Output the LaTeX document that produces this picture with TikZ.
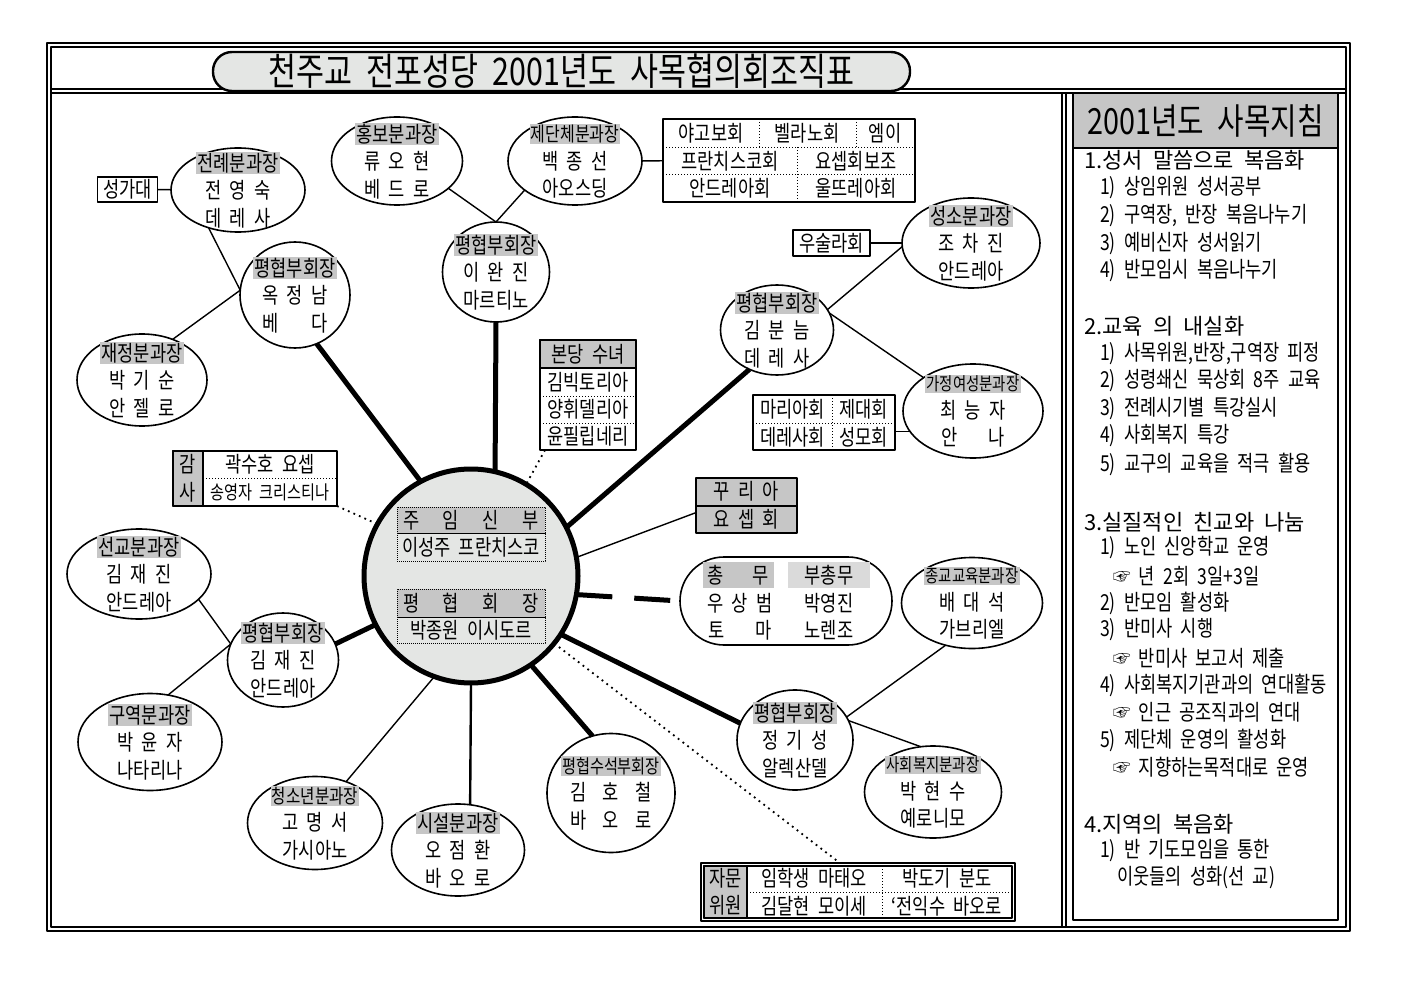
\documentclass[tikz,border=0pt]{standalone}
\usepackage{fontspec}
\setmainfont[FakeStretch=0.8,WordSpace=2.1]{Noto Sans CJK KR}
\newfontfamily\headfont[WordSpace=2.1]{Noto Sans CJK KR}
\usetikzlibrary{shapes.geometric}
\definecolor{orgGray}{HTML}{C6C6C6}
\definecolor{orgPale}{HTML}{DADADA}
\definecolor{orgLight}{HTML}{E4E6E4}
\setlength{\fboxsep}{1.2pt}
\newcommand{\orgfont}{\fontsize{22}{27.5}\selectfont}
\newcommand{\orgrole}[2][22]{{\fontsize{#1}{27.5}\selectfont\colorbox{orgGray}{#2}}}
\newcommand{\orgspread}[2]{\makebox[#1][s]{#2}}
\tikzset{
  org chart/.style={
    x=1pt, y=-1pt, line join=round,
    every node/.style={font=\orgfont, inner sep=0pt, outer sep=0pt}
  },
  org size/.style 2 args={minimum width=#1pt, minimum height=#2pt},
  org unit/.style={ellipse, draw, line width=1.6pt, fill=white},
  org main/.style={circle, draw, line width=5pt, fill=orgLight, minimum size=214pt},
  org text/.style={align=center},
  org box/.style={rectangle, draw, line width=1.6pt, fill=white},
  org cell/.style={rectangle, draw, line width=0.8pt, dash pattern=on 0.8pt off 1.2pt},
  org link/.style={line width=1.4pt},
  org trunk/.style={line width=5pt},
  org dots/.style={line width=1.8pt, dash pattern=on 1.8pt off 4.2pt},
  cell rule/.style={line width=0.8pt, dash pattern=on 1pt off 2pt},
  frame line/.style={line width=1.2pt},
  guide head/.style={font=\headfont\fontsize{22}{27}\selectfont, anchor=west},
  guide item/.style={anchor=west}
}
\newcommand{\OrgUnit}[5][]{%
  \node[org unit,#1] (#2) at (#3) {};
  \node[org text] (#2-txt) at (#2) {#4\\#5};
}

\begin{document}
\begin{tikzpicture}[org chart]
  \path[use as bounding box, fill=white] (0,0) rectangle (1403,992);
  \draw[frame line] (47,43) rectangle (1350,931);
  \draw[frame line] (51,47) rectangle (1346,927);
  \draw[frame line] (51,89) -- (1346,89);
  \draw[frame line] (51,93) -- (1346,93);
  \draw[frame line] (1062,93) -- (1062,927);
  \draw[frame line] (1066,93) -- (1066,927);
  \node[draw, line width=2.4pt, fill=orgLight, rounded corners=19pt, org size={697}{39}] (title) at (561.5,71.5)
    {\fontsize{38}{40}\selectfont 천주교 전포성당 2001년도 사목협의회조직표};

  % guide panel
  \node[org box, line width=1.4pt, org size={265}{827}] (guide) at (1205.5,506.5) {};
  \node[org box, line width=1.4pt, fill=orgGray, org size={265}{55}] (guide-title) at (1205.5,120.5)
    {\fontsize{36}{40}\selectfont 2001년도 사목지침};
  \node[guide head] (g1) at (1084,160) {1.성서 말씀으로 복음화};
  \node[guide item] (g1a) at (1100,188) {1) 상임위원 성서공부};
  \node[guide item] (g1b) at (1100,216) {2) 구역장, 반장 복음나누기};
  \node[guide item] (g1c) at (1100,244) {3) 예비신자 성서읽기};
  \node[guide item] (g1d) at (1100,271) {4) 반모임시 복음나누기};
  \node[guide head] (g2) at (1084,326) {2.교육 의 내실화};
  \node[guide item] (g2a) at (1100,354) {1) 사목위원,반장,구역장 피정};
  \node[guide item] (g2b) at (1100,381) {2) 성령쇄신 묵상회 8주 교육};
  \node[guide item] (g2c) at (1100,409) {3) 전례시기별 특강실시};
  \node[guide item] (g2d) at (1100,436) {4) 사회복지 특강};
  \node[guide item] (g2e) at (1100,464) {5) 교구의 교육을 적극 활용};
  \node[guide head] (g3) at (1084,522) {3.실질적인 친교와 나눔};
  \node[guide item] (g3a) at (1100,548) {1) 노인 신앙학교 운영};
  \node[guide item] (g3b) at (1113,576) {☞ 년 2회 3일+3일};
  \node[guide item] (g3c) at (1100,603) {2) 반모임 활성화};
  \node[guide item] (g3d) at (1100,630) {3) 반미사 시행};
  \node[guide item] (g3e) at (1113,658) {☞ 반미사 보고서 제출};
  \node[guide item] (g3f) at (1100,685) {4) 사회복지기관과의 연대활동};
  \node[guide item] (g3g) at (1113,712) {☞ 인근 공조직과의 연대};
  \node[guide item] (g3h) at (1100,740) {5) 제단체 운영의 활성화};
  \node[guide item] (g3i) at (1113,767) {☞ 지향하는목적대로 운영};
  \node[guide head] (g4) at (1084,824) {4.지역의 복음화};
  \node[guide item] (g4a) at (1100,851) {1) 반 기도모임을 통한};
  \node[guide item] (g4b) at (1117,878) {이웃들의 성화(선 교)};

  % centre
  \node[org main] (main) at (471,576) {};
  \node[org cell, fill=orgGray, org size={148}{26}] (pastor-role) at (471,520) {\orgspread{136pt}{주 임 신 부}};
  \node[org cell, org size={148}{28}] (pastor-name) at (471,547) {이성주 프란치스코};
  \node[org cell, fill=orgGray, org size={148}{28}] (president-role) at (471,603) {\orgspread{136pt}{평 협 회 장}};
  \node[org cell, org size={148}{26}] (president-name) at (471,630) {박종원 이시도르};

  % units
  \OrgUnit[org size={134}{84}]{jeonrye}{238,190}{\orgrole{전례분과장}}{전 영 숙\\데 레 사}
  \OrgUnit[org size={131}{88}]{hongbo}{397,161}{\orgrole{홍보분과장}}{류 오 현\\베 드 로}
  \OrgUnit[org size={134}{88}]{jedan}{575,161}{\orgrole[20]{제단체분과장}}{백 종 선\\아오스딩}
  \OrgUnit[org size={107}{100}]{pyeongT}{496,272}{\orgrole{평협부회장}}{이 완 진\\마르티노}
  \OrgUnit[org size={110}{106}]{pyeongL}{295,295}{\orgrole{평협부회장}}{옥 정 남\\\orgspread{66pt}{베 다}}
  \OrgUnit[org size={130}{92}]{jaejeong}{142,380}{\orgrole{재정분과장}}{박 기 순\\안 젤 로}
  \OrgUnit[org size={113}{90}]{pyeongR}{777,330}{\orgrole{평협부회장}}{김 분 늠\\데 레 사}
  \OrgUnit[org size={138}{90}]{seongso}{971,243}{\orgrole{성소분과장}}{조 차 진\\안드레아}
  \OrgUnit[org size={140}{94}]{gajeong}{973,411}{\orgrole[18]{가정여성분과장}}{최 능 자\\\orgspread{64pt}{안 나}}
  \OrgUnit[org size={141}{91}]{jonggyo}{972,603}{\orgrole[18]{종교교육분과장}}{배 대 석\\가브리엘}
  \OrgUnit[org size={116}{100}]{pyeongBR}{795,740}{\orgrole{평협부회장}}{정 기 성\\알렉산델}
  \OrgUnit[org size={137}{92}]{sahoe}{933,792}{\orgrole[18]{사회복지분과장}}{박 현 수\\예로니모}
  \OrgUnit[org size={128}{119}]{pyeongSu}{611,793}{\orgrole[19]{평협수석부회장}}{\orgspread{82pt}{김 호 철}\\\orgspread{82pt}{바 오 로}}
  \OrgUnit[org size={133}{92}]{siseol}{458,850}{\orgrole{시설분과장}}{오 점 환\\바 오 로}
  \OrgUnit[org size={135}{93}]{cheongso}{315,823}{\orgrole[19.5]{청소년분과장}}{고 명 서\\가시아노}
  \OrgUnit[org size={111}{94}]{pyeongBL}{283,660}{\orgrole{평협부회장}}{김 재 진\\안드레아}
  \OrgUnit[org size={144}{90}]{seongyo}{139,574}{\orgrole{선교분과장}}{김 재 진\\안드레아}
  \OrgUnit[org size={144}{97}]{guyeok}{150,742}{\orgrole{구역분과장}}{박 윤 자\\나타리나}

  % boxes and tables
  \node[org box, org size={60}{25}] (seongga) at (127.5,189.5) {성가대};
  \node[org box, org size={77}{26}] (ursula) at (831.5,243) {우술라회};

  \node[org box, org size={252}{83}] (jedan-tbl) at (789,160.5) {};
  \draw[cell rule] (663,147) -- (915,147);
  \draw[cell rule] (663,174) -- (915,174);
  \draw[cell rule] (759,119) -- (759,147);
  \draw[cell rule] (856,119) -- (856,147);
  \draw[cell rule] (797,147) -- (797,202);
  \node (jedan-a1) at (711,133) {야고보회};
  \node (jedan-a2) at (807,133) {벨라노회};
  \node (jedan-a3) at (885,133) {엠이};
  \node (jedan-b1) at (730,161) {프란치스코회};
  \node (jedan-b2) at (856,161) {요셉회보조};
  \node (jedan-c1) at (730,188) {안드레아회};
  \node (jedan-c2) at (856,188) {울뜨레아회};

  \node[org box, org size={164}{55}] (gamsa) at (255,478.5) {};
  \node[org box, fill=orgGray, org size={30}{55}, align=center] (gamsa-side) at (188,478.5) {감\\사};
  \draw[cell rule] (203,478) -- (337,478);
  \node (gamsa-a) at (270,464) {곽수호 요셉};
  \node[font=\fontsize{19}{22}\selectfont] (gamsa-b) at (270,492) {송영자 크리스티나};

  \node[org box, org size={96}{110}] (sunyeo) at (588,395) {};
  \node[org box, fill=orgGray, org size={96}{28}] (sunyeo-h) at (588,354) {본당 수녀};
  \draw[cell rule] (540,396) -- (636,396);
  \draw[cell rule] (540,423) -- (636,423);
  \node (sunyeo-a) at (588,382) {김빅토리아};
  \node (sunyeo-b) at (588,409.5) {양휘델리아};
  \node (sunyeo-c) at (588,436.5) {윤필립네리};

  \node[org box, org size={142}{55}] (maria) at (824,422.5) {};
  \draw[cell rule] (832,395) -- (832,450);
  \draw[cell rule] (753,423) -- (895,423);
  \node (maria-a1) at (792.5,409) {마리아회};
  \node (maria-a2) at (863.5,409) {제대회};
  \node (maria-b1) at (792.5,437) {데레사회};
  \node (maria-b2) at (863.5,437) {성모회};

  \node[org box, fill=orgGray, org size={101}{55}, align=center] (curia) at (746.5,505.5) {꾸 리 아\\요 셉 회};
  \draw[line width=1.6pt] (696,506) -- (797,506);

  \node[org box, org size={212}{88}, rounded corners=44pt] (chongmu) at (786,601) {};
  \node[fill=orgGray, org size={71}{26}] (chongmu-h1) at (738,575) {\orgspread{62pt}{총 무}};
  \node[fill=orgPale, org size={82}{26}] (chongmu-h2) at (829,575) {부총무};
  \node (chongmu-a1) at (740,603) {우 상 범};
  \node (chongmu-a2) at (829,603) {박영진};
  \node (chongmu-b1) at (740,630) {\orgspread{64pt}{토 마}};
  \node (chongmu-b2) at (829,630) {노렌조};

  \node[org box, line width=1.2pt, org size={314}{58}] (jamun) at (858,892) {};
  \draw[line width=1.2pt] (704,866) rectangle (1012,918);
  \node[org box, line width=1.2pt, fill=orgGray, org size={43}{52}, align=center] (jamun-side) at (725.5,892) {자문\\위원};
  \draw[cell rule] (747,892) -- (1012,892);
  \draw[cell rule] (882,866) -- (882,918);
  \node (jamun-a1) at (814,878) {임학생 마태오};
  \node (jamun-a2) at (947,878) {박도기 분도};
  \node (jamun-b1) at (814,906) {김달현 모이세};
  \node (jamun-b2) at (947,906) {‘전익수 바오로};

  % links
  \draw[org link] (seongga) -- (jeonrye);
  \draw[org link] (jeonrye.232) -- (pyeongL.175);
  \draw[org link] (jaejeong.53) -- (pyeongL.175);
  \draw[org link] (hongbo.332) -- (pyeongT.north);
  \draw[org link] (jedan.210) -- (pyeongT.north);
  \draw[org link] (jedan) -- (jedan-tbl);
  \draw[org link] (ursula) -- (seongso);
  \draw[org link] (pyeongR.22) -- (seongso.183);
  \draw[org link] (pyeongR.18) -- (gajeong.146);
  \draw[org link] (gajeong.198) -- (gajeong.198 -| maria.east);
  \draw[org link] (main.10) -- (curia.188);
  \draw[org link] (pyeongBR.24) -- (jonggyo.238);
  \draw[org link] (pyeongBR.20) -- (sahoe.105);
  \draw[org link] (main.250) -- (cheongso.53);
  \draw[org link, line width=2.4pt] (main.south) -- (siseol.75);
  \draw[org link] (seongyo.337) -- (pyeongBL.163);
  \draw[org link] (guyeok.69) -- (pyeongBL.163);

  \draw[org trunk] (pyeongT.south) -- (main.77);
  \draw[org trunk] (pyeongL.294) -- (main.118);
  \draw[org trunk] (pyeongR.235) -- (main.27);
  \draw[org trunk] (main.327) -- (pyeongBR.163);
  \draw[org trunk] (main.304) -- (pyeongSu.108);
  \draw[org trunk] (pyeongBL.17) -- (main.207);
  \draw[org trunk, dash pattern=on 36pt off 22pt] (main.350) -- (chongmu.west);

  \draw[org dots] (gamsa.south east) -- (main.151);
  \draw[org dots] (sunyeo.232) -- (main.59);
  \draw[org dots] (main.321) -- (jamun.122);
\end{tikzpicture}
\end{document}
